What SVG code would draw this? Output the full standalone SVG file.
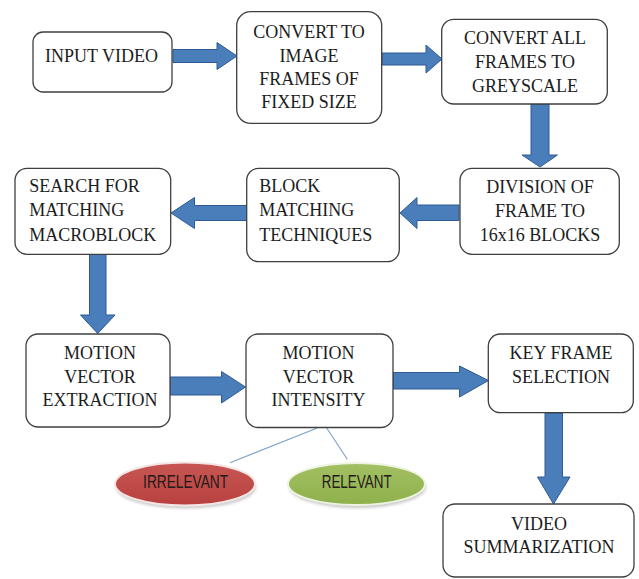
<svg xmlns="http://www.w3.org/2000/svg" width="639" height="579" viewBox="0 0 639 579">
  <defs>
    <style>
      .box { fill: #ffffff; stroke: #3f3f3f; stroke-width: 1.3; }
      .lbl { font-family: 'Times New Roman', 'Liberation Serif', Tinos, 'DejaVu Serif', serif; font-size: 18px; fill: #1c1c1c; }
      .mid { text-anchor: middle; }
      .arrow { fill: #4a7ebb; stroke: #2f5a93; stroke-width: 1; stroke-linejoin: miter; }
      .link { stroke: #7aa0c6; stroke-width: 1.1; fill: none; }
      .oval-txt { font-family: 'Liberation Sans', Arial, sans-serif; font-size: 18px; fill: #231a1a; text-anchor: middle; }
    </style>
    <linearGradient id="redFill" x1="0" y1="0" x2="0" y2="1">
      <stop offset="0" stop-color="#c75754"/>
      <stop offset="1" stop-color="#b8413e"/>
    </linearGradient>
    <linearGradient id="greenFill" x1="0" y1="0" x2="0" y2="1">
      <stop offset="0" stop-color="#a3c063"/>
      <stop offset="1" stop-color="#8fb04c"/>
    </linearGradient>
    <filter id="soft" x="-20%" y="-30%" width="140%" height="160%">
      <feGaussianBlur stdDeviation="1.5"/>
    </filter>
  </defs>

  <!-- flow arrows and links -->
  <g id="connectors">
    <polygon class="arrow" points="173,49.5 217,49.5 217,42.5 237,56 217,69.5 217,62.5 173,62.5"/>
    <polygon class="arrow" points="382,53 426,53 426,45 442,59 426,73 426,65 382,65"/>
    <polygon class="arrow" points="531,104 549,104 549,155 557.5,155 540,167 522,155 531,155"/>
    <polygon class="arrow" points="459,205 417,205 417,197.5 400,213 417,228.5 417,220.5 459,220.5"/>
    <polygon class="arrow" points="247,205.5 194.5,205.5 194.5,197.5 171,213 194.5,228.5 194.5,220.5 247,220.5"/>
    <polygon class="arrow" points="89.5,254.5 106,254.5 106,315 115,315 97.7,333.5 80.5,315 89.5,315"/>
    <polygon class="arrow" points="170,377 221.5,377 221.5,371.5 245.5,387 221.5,403 221.5,395 170,395"/>
    <polygon class="arrow" points="393.5,372.5 459.5,372.5 459.5,366 488.5,380.5 459.5,397 459.5,389 393.5,389"/>
    <polygon class="arrow" points="545,413 562.5,413 562.5,477 570,477 553.5,504 537.5,477 545,477"/>
    <line class="link" x1="316.7" y1="428.3" x2="230" y2="462.7"/>
    <line class="link" x1="326.7" y1="428" x2="347.3" y2="459.3"/>
  </g>

  <g id="input-video">
    <rect class="box" x="33" y="32" width="139" height="60" rx="10"/>
    <text class="lbl mid" x="101.5" y="62">INPUT VIDEO</text>
  </g>

  <g id="convert-frames">
    <rect class="box" x="236.7" y="11.7" width="145" height="111.6" rx="14"/>
    <text class="lbl mid" x="309" y="38.3">CONVERT TO</text>
    <text class="lbl mid" x="309" y="61.7">IMAGE</text>
    <text class="lbl mid" x="309" y="85">FRAMES OF</text>
    <text class="lbl mid" x="309" y="108.3">FIXED SIZE</text>
  </g>

  <g id="greyscale">
    <rect class="box" x="441.7" y="19.3" width="165.6" height="84.7" rx="12"/>
    <text class="lbl mid" x="525" y="44.3">CONVERT ALL</text>
    <text class="lbl mid" x="525" y="68.3">FRAMES TO</text>
    <text class="lbl mid" x="525" y="91.7">GREYSCALE</text>
  </g>

  <g id="division">
    <rect class="box" x="460" y="168.3" width="159.3" height="86" rx="12"/>
    <text class="lbl mid" x="540" y="193">DIVISION OF</text>
    <text class="lbl mid" x="540" y="216.7">FRAME TO</text>
    <text class="lbl mid" x="540" y="241">16x16 BLOCKS</text>
  </g>

  <g id="block-matching">
    <rect class="box" x="246.7" y="168.3" width="152.6" height="93.4" rx="12"/>
    <text class="lbl" x="259.3" y="192.3">BLOCK</text>
    <text class="lbl" x="259.3" y="216">MATCHING</text>
    <text class="lbl" x="259.3" y="240.7">TECHNIQUES</text>
  </g>

  <g id="search-macroblock">
    <rect class="box" x="15" y="168.3" width="155.7" height="86" rx="12"/>
    <text class="lbl" x="29.3" y="192.3">SEARCH FOR</text>
    <text class="lbl" x="29.3" y="216">MATCHING</text>
    <text class="lbl" x="29.3" y="240.7">MACROBLOCK</text>
  </g>

  <g id="mv-extraction">
    <rect class="box" x="26" y="334" width="144" height="93" rx="12"/>
    <text class="lbl mid" x="100" y="359.3">MOTION</text>
    <text class="lbl mid" x="100" y="382.5">VECTOR</text>
    <text class="lbl mid" x="100" y="405.5">EXTRACTION</text>
  </g>

  <g id="mv-intensity">
    <rect class="box" x="246" y="334" width="147" height="93.5" rx="12"/>
    <text class="lbl mid" x="318.5" y="359.3">MOTION</text>
    <text class="lbl mid" x="318.5" y="382.5">VECTOR</text>
    <text class="lbl mid" x="318.5" y="405.5">INTENSITY</text>
  </g>

  <g id="key-frame">
    <rect class="box" x="488.3" y="334" width="145" height="78.7" rx="12"/>
    <text class="lbl mid" x="561" y="359.3">KEY FRAME</text>
    <text class="lbl mid" x="561" y="383.3">SELECTION</text>
  </g>

  <g id="summarization">
    <rect class="box" x="443" y="504" width="191" height="73" rx="12"/>
    <text class="lbl mid" x="539" y="530">VIDEO</text>
    <text class="lbl mid" x="539" y="552.7">SUMMARIZATION</text>
  </g>

  <g id="irrelevant">
    <ellipse cx="186" cy="487" rx="70" ry="21.5" fill="#a6a6a6" opacity="0.6" filter="url(#soft)"/>
    <ellipse cx="185" cy="484" rx="70" ry="21.5" fill="url(#redFill)" stroke="#f4e6e6" stroke-width="2"/>
    <text class="oval-txt" x="185.6" y="488.3" textLength="85" lengthAdjust="spacingAndGlyphs">IRRELEVANT</text>
  </g>

  <g id="relevant">
    <ellipse cx="357.5" cy="487" rx="68.5" ry="21" fill="#a6a6a6" opacity="0.6" filter="url(#soft)"/>
    <ellipse cx="356.5" cy="484" rx="68.5" ry="21" fill="url(#greenFill)" stroke="#eef4e2" stroke-width="2"/>
    <text class="oval-txt" x="356.7" y="488.3" textLength="70" lengthAdjust="spacingAndGlyphs">RELEVANT</text>
  </g>
</svg>
